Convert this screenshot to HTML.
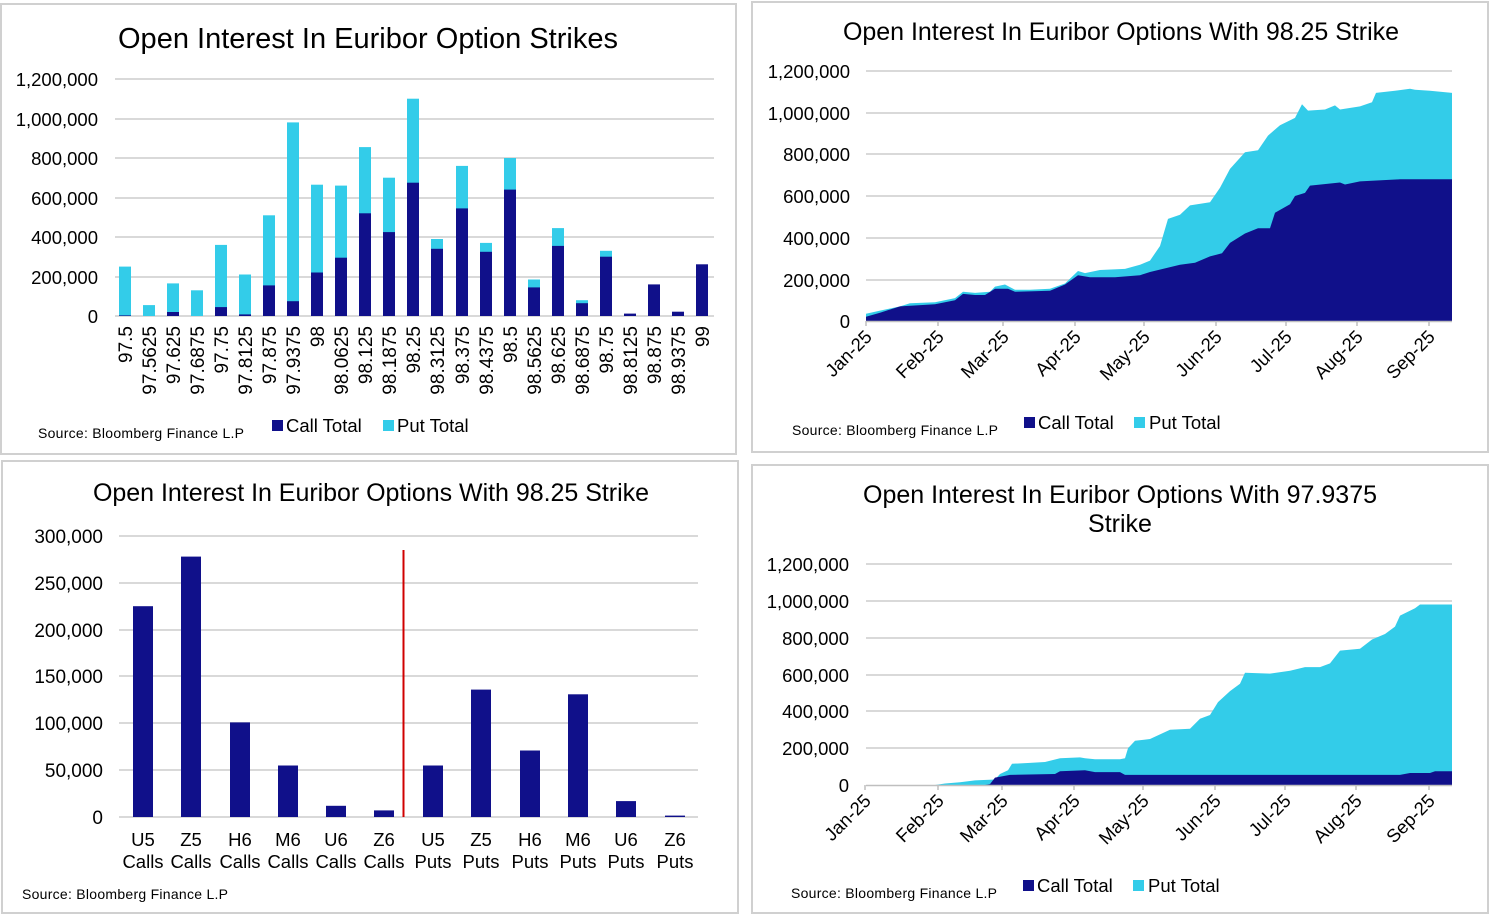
<!DOCTYPE html>
<html><head><meta charset="utf-8"><style>
html,body{margin:0;padding:0;background:#fff}
svg{display:block;font-family:"Liberation Sans",Arial,sans-serif}
</style></head><body>
<svg width="1490" height="916" viewBox="0 0 1490 916" xmlns="http://www.w3.org/2000/svg">
<rect x="0" y="0" width="1490" height="916" fill="#fff"/>
<g fill="none" stroke="#d0d0d0" stroke-width="2">
<rect x="1" y="4" width="735" height="450"/>
<rect x="752" y="2" width="736" height="450"/>
<rect x="2" y="461" width="736" height="452"/>
<rect x="752" y="465" width="736" height="448"/>
</g>

<!-- ========== Chart 1 ========== -->
<text x="368" y="48" font-size="29" text-anchor="middle" fill="#000" textLength="500">Open Interest In Euribor Option Strikes</text>
<g stroke="#d9d9d9" stroke-width="2">
<line x1="115" x2="714" y1="79" y2="79"/><line x1="115" x2="714" y1="119" y2="119"/>
<line x1="115" x2="714" y1="158" y2="158"/><line x1="115" x2="714" y1="198" y2="198"/>
<line x1="115" x2="714" y1="237" y2="237"/><line x1="115" x2="714" y1="277" y2="277"/>
<line x1="115" x2="714" y1="316" y2="316"/>
</g>
<g font-size="18.5" text-anchor="end" fill="#000">
<text x="98" y="86">1,200,000</text><text x="98" y="126">1,000,000</text>
<text x="98" y="165">800,000</text><text x="98" y="205">600,000</text>
<text x="98" y="244">400,000</text><text x="98" y="284">200,000</text>
<text x="98" y="323">0</text>
</g>
<g fill="#33cce9">
<rect x="119" y="266.6" width="12" height="49.4"/>
<rect x="143" y="305.1" width="12" height="10.9"/>
<rect x="167" y="283.4" width="12" height="32.6"/>
<rect x="191" y="290.3" width="12" height="25.7"/>
<rect x="215" y="244.9" width="12" height="71.1"/>
<rect x="239" y="274.5" width="12" height="41.5"/>
<rect x="263" y="215.3" width="12" height="100.7"/>
<rect x="287" y="122.4" width="12" height="193.6"/>
<rect x="311" y="184.7" width="12" height="131.3"/>
<rect x="335" y="185.6" width="12" height="130.4"/>
<rect x="359" y="147.1" width="12" height="168.9"/>
<rect x="383" y="177.7" width="12" height="138.3"/>
<rect x="407" y="98.7" width="12" height="217.3"/>
<rect x="431" y="239" width="12" height="77"/>
<rect x="456" y="165.9" width="12" height="150.1"/>
<rect x="480" y="242.9" width="12" height="73.1"/>
<rect x="504" y="158" width="12" height="158"/>
<rect x="528" y="279.5" width="12" height="36.5"/>
<rect x="552" y="228.1" width="12" height="87.9"/>
<rect x="576" y="300.2" width="12" height="15.8"/>
<rect x="600" y="250.8" width="12" height="65.2"/>
</g>
<g fill="#10108a">
<rect x="119" y="315.4" width="12" height="0.6"/>
<rect x="167" y="312" width="12" height="4"/>
<rect x="215" y="307.1" width="12" height="8.9"/>
<rect x="239" y="314.4" width="12" height="1.6"/>
<rect x="263" y="285.4" width="12" height="30.6"/>
<rect x="287" y="301.2" width="12" height="14.8"/>
<rect x="311" y="272.5" width="12" height="43.5"/>
<rect x="335" y="257.7" width="12" height="58.3"/>
<rect x="359" y="213.3" width="12" height="102.7"/>
<rect x="383" y="232.1" width="12" height="83.9"/>
<rect x="407" y="182.7" width="12" height="133.3"/>
<rect x="431" y="248.8" width="12" height="67.2"/>
<rect x="456" y="208.4" width="12" height="107.6"/>
<rect x="480" y="251.8" width="12" height="64.2"/>
<rect x="504" y="189.6" width="12" height="126.4"/>
<rect x="528" y="287.4" width="12" height="28.6"/>
<rect x="552" y="245.9" width="12" height="70.1"/>
<rect x="576" y="303.2" width="12" height="12.8"/>
<rect x="600" y="256.7" width="12" height="59.3"/>
<rect x="624" y="313.6" width="12" height="2.4"/>
<rect x="648" y="284.4" width="12" height="31.6"/>
<rect x="672" y="311.7" width="12" height="4.3"/>
<rect x="696" y="264.3" width="12" height="51.7"/>
</g>
<g font-size="19" text-anchor="end" fill="#000">
<text transform="translate(132,326) rotate(-90)">97.5</text>
<text transform="translate(156,326) rotate(-90)">97.5625</text>
<text transform="translate(180,326) rotate(-90)">97.625</text>
<text transform="translate(204,326) rotate(-90)">97.6875</text>
<text transform="translate(228,326) rotate(-90)">97.75</text>
<text transform="translate(252,326) rotate(-90)">97.8125</text>
<text transform="translate(276,326) rotate(-90)">97.875</text>
<text transform="translate(300,326) rotate(-90)">97.9375</text>
<text transform="translate(324,326) rotate(-90)">98</text>
<text transform="translate(348,326) rotate(-90)">98.0625</text>
<text transform="translate(372,326) rotate(-90)">98.125</text>
<text transform="translate(396,326) rotate(-90)">98.1875</text>
<text transform="translate(420,326) rotate(-90)">98.25</text>
<text transform="translate(444,326) rotate(-90)">98.3125</text>
<text transform="translate(469,326) rotate(-90)">98.375</text>
<text transform="translate(493,326) rotate(-90)">98.4375</text>
<text transform="translate(517,326) rotate(-90)">98.5</text>
<text transform="translate(541,326) rotate(-90)">98.5625</text>
<text transform="translate(565,326) rotate(-90)">98.625</text>
<text transform="translate(589,326) rotate(-90)">98.6875</text>
<text transform="translate(613,326) rotate(-90)">98.75</text>
<text transform="translate(637,326) rotate(-90)">98.8125</text>
<text transform="translate(661,326) rotate(-90)">98.875</text>
<text transform="translate(685,326) rotate(-90)">98.9375</text>
<text transform="translate(709,326) rotate(-90)">99</text>
</g>
<text x="38" y="438" font-size="14" fill="#000" textLength="206">Source: Bloomberg Finance L.P</text>
<rect x="272" y="420" width="11" height="11" fill="#10108a"/>
<text x="286" y="432" font-size="18.5" fill="#000">Call Total</text>
<rect x="383" y="420" width="11" height="11" fill="#33cce9"/>
<text x="397" y="432" font-size="18.5" fill="#000">Put Total</text>

<!-- ========== Chart 2 ========== -->
<text x="1121" y="40" font-size="25" text-anchor="middle" fill="#000" textLength="556">Open Interest In Euribor Options With 98.25 Strike</text>
<g stroke="#d9d9d9" stroke-width="2">
<line x1="866" x2="1452" y1="71" y2="71"/><line x1="866" x2="1452" y1="113" y2="113"/>
<line x1="866" x2="1452" y1="154" y2="154"/><line x1="866" x2="1452" y1="196" y2="196"/>
<line x1="866" x2="1452" y1="238" y2="238"/><line x1="866" x2="1452" y1="280" y2="280"/>
</g>
<g font-size="18.5" text-anchor="end" fill="#000">
<text x="850" y="78">1,200,000</text><text x="850" y="120">1,000,000</text>
<text x="850" y="161">800,000</text><text x="850" y="203">600,000</text>
<text x="850" y="245">400,000</text><text x="850" y="287">200,000</text>
<text x="850" y="328">0</text>
</g>
<polygon fill="#33cce9" points="866,321 866,313.7 880,310.6 900,306.4 910,303.3 935,302.3 955,298.1 963,291.8 975,292.9 990,291.8 995,286.6 1005,284.5 1015,289.8 1030,289.8 1050,288.7 1065,283.5 1078,271 1085,273.1 1100,270 1125,268.9 1140,264.8 1150,260.6 1160,246 1168,218.9 1180,214.8 1190,205.4 1210,202.3 1220,187.7 1230,168.9 1245,152.3 1258,150.2 1268,135.6 1280,125.2 1295,117.9 1302,104.3 1308,110.6 1325,109.5 1335,105.4 1340,109.5 1360,106.4 1372,102.3 1376,92.9 1395,90.8 1410,88.7 1415,89.8 1430,90.8 1452,92.9 1452,321"/>
<polygon fill="#10108a" points="866,321 866,316.8 880,312.7 900,306.4 935,304.3 955,300.2 963,293.9 975,295 985,295 995,288.7 1008,288.7 1015,291.8 1050,290.8 1065,284.5 1078,275.2 1090,277.3 1115,277.3 1140,275.2 1150,272 1180,264.8 1195,262.7 1210,256.4 1222,253.3 1230,242.9 1245,233.5 1258,228.3 1270,228.3 1275,212.7 1290,204.3 1295,196 1305,192.9 1310,185.6 1340,182.5 1345,184.5 1360,181.4 1400,179.3 1452,179.3 1452,321"/>
<g stroke="#bfbfbf" stroke-width="1.5">
<line x1="866" x2="1452" y1="321.5" y2="321.5"/>
<line x1="866" x2="866" y1="321" y2="326"/><line x1="938" x2="938" y1="321" y2="326"/>
<line x1="1003" x2="1003" y1="321" y2="326"/><line x1="1075" x2="1075" y1="321" y2="326"/>
<line x1="1144" x2="1144" y1="321" y2="326"/><line x1="1216" x2="1216" y1="321" y2="326"/>
<line x1="1286" x2="1286" y1="321" y2="326"/><line x1="1357" x2="1357" y1="321" y2="326"/>
<line x1="1429" x2="1429" y1="321" y2="326"/>
</g>
<g font-size="18.5" text-anchor="end" fill="#000">
<text transform="translate(873,338) rotate(-45)">Jan-25</text>
<text transform="translate(945,338) rotate(-45)">Feb-25</text>
<text transform="translate(1010,338) rotate(-45)">Mar-25</text>
<text transform="translate(1082,338) rotate(-45)">Apr-25</text>
<text transform="translate(1151,338) rotate(-45)">May-25</text>
<text transform="translate(1223,338) rotate(-45)">Jun-25</text>
<text transform="translate(1293,338) rotate(-45)">Jul-25</text>
<text transform="translate(1364,338) rotate(-45)">Aug-25</text>
<text transform="translate(1436,338) rotate(-45)">Sep-25</text>
</g>
<text x="792" y="435" font-size="14" fill="#000" textLength="206">Source: Bloomberg Finance L.P</text>
<rect x="1024" y="417" width="11" height="11" fill="#10108a"/>
<text x="1038" y="429" font-size="18.5" fill="#000">Call Total</text>
<rect x="1134" y="417" width="11" height="11" fill="#33cce9"/>
<text x="1149" y="429" font-size="18.5" fill="#000">Put Total</text>

<!-- ========== Chart 3 ========== -->
<text x="371" y="501" font-size="25" text-anchor="middle" fill="#000" textLength="556">Open Interest In Euribor Options With 98.25 Strike</text>
<g stroke="#d9d9d9" stroke-width="2">
<line x1="119" x2="698" y1="536" y2="536"/><line x1="119" x2="698" y1="583" y2="583"/>
<line x1="119" x2="698" y1="630" y2="630"/><line x1="119" x2="698" y1="676" y2="676"/>
<line x1="119" x2="698" y1="723" y2="723"/><line x1="119" x2="698" y1="770" y2="770"/>
<line x1="119" x2="698" y1="817" y2="817"/>
</g>
<g font-size="19" text-anchor="end" fill="#000">
<text x="103" y="543">300,000</text><text x="103" y="590">250,000</text>
<text x="103" y="637">200,000</text><text x="103" y="683">150,000</text>
<text x="103" y="730">100,000</text><text x="103" y="777">50,000</text>
<text x="103" y="824">0</text>
</g>
<g fill="#10108a">
<rect x="133" y="606.2" width="20" height="210.8"/>
<rect x="181" y="556.6" width="20" height="260.4"/>
<rect x="230" y="722.4" width="20" height="94.6"/>
<rect x="278" y="765.5" width="20" height="51.5"/>
<rect x="326" y="805.8" width="20" height="11.2"/>
<rect x="374" y="810.4" width="20" height="6.6"/>
<rect x="423" y="765.5" width="20" height="51.5"/>
<rect x="471" y="689.6" width="20" height="127.4"/>
<rect x="520" y="750.5" width="20" height="66.5"/>
<rect x="568" y="694.3" width="20" height="122.7"/>
<rect x="616" y="801.1" width="20" height="15.9"/>
<rect x="665" y="815.6" width="20" height="1.4"/>
</g>
<line x1="403.5" x2="403.5" y1="550" y2="817" stroke="#d00000" stroke-width="2"/>
<g font-size="18.5" text-anchor="middle" fill="#000">
<text x="143" y="846">U5</text><text x="191" y="846">Z5</text><text x="240" y="846">H6</text>
<text x="288" y="846">M6</text><text x="336" y="846">U6</text><text x="384" y="846">Z6</text>
<text x="433" y="846">U5</text><text x="481" y="846">Z5</text><text x="530" y="846">H6</text>
<text x="578" y="846">M6</text><text x="626" y="846">U6</text><text x="675" y="846">Z6</text>
<text x="143" y="868">Calls</text><text x="191" y="868">Calls</text><text x="240" y="868">Calls</text>
<text x="288" y="868">Calls</text><text x="336" y="868">Calls</text><text x="384" y="868">Calls</text>
<text x="433" y="868">Puts</text><text x="481" y="868">Puts</text><text x="530" y="868">Puts</text>
<text x="578" y="868">Puts</text><text x="626" y="868">Puts</text><text x="675" y="868">Puts</text>
</g>
<text x="22" y="899" font-size="14" fill="#000" textLength="206">Source: Bloomberg Finance L.P</text>

<!-- ========== Chart 4 ========== -->
<text x="1120" y="503" font-size="25" text-anchor="middle" fill="#000" textLength="514">Open Interest In Euribor Options With 97.9375</text>
<text x="1120" y="532" font-size="25" text-anchor="middle" fill="#000">Strike</text>
<g stroke="#d9d9d9" stroke-width="2">
<line x1="866" x2="1452" y1="564" y2="564"/><line x1="866" x2="1452" y1="601" y2="601"/>
<line x1="866" x2="1452" y1="638" y2="638"/><line x1="866" x2="1452" y1="675" y2="675"/>
<line x1="866" x2="1452" y1="711" y2="711"/><line x1="866" x2="1452" y1="748" y2="748"/>
</g>
<g font-size="18.5" text-anchor="end" fill="#000">
<text x="849" y="571">1,200,000</text><text x="849" y="608">1,000,000</text>
<text x="849" y="645">800,000</text><text x="849" y="682">600,000</text>
<text x="849" y="718">400,000</text><text x="849" y="755">200,000</text>
<text x="849" y="792">0</text>
</g>
<polygon fill="#33cce9" points="866,785 935,785 945,783.5 960,782.2 975,780.4 995,779.5 1000,774 1008,770.3 1012,763.8 1030,762.9 1045,762 1060,758.3 1080,757.4 1085,758.3 1095,759.2 1120,759.2 1125,758.3 1128,748.2 1135,740.8 1150,739 1160,734.4 1170,729.7 1190,728.8 1200,718.7 1210,715 1218,702.1 1230,691.1 1240,683.7 1245,672.7 1270,673.6 1290,670.8 1305,667.1 1320,667.1 1330,663.4 1340,650.6 1360,648.7 1372,639.5 1385,634 1395,626.6 1400,615.6 1415,608.2 1420,604.5 1452,604.5 1452,785"/>
<polygon fill="#10108a" points="985,785 990,784.1 995,777.6 1010,774.9 1055,774 1060,771.2 1085,770.3 1095,772.1 1120,772.1 1125,774.9 1400,774.9 1410,773 1430,773 1435,771.2 1452,771.2 1452,785"/>
<g stroke="#bfbfbf" stroke-width="1.5">
<line x1="866" x2="1452" y1="785.5" y2="785.5"/>
<line x1="865" x2="865" y1="785" y2="790"/><line x1="938" x2="938" y1="785" y2="790"/>
<line x1="1002" x2="1002" y1="785" y2="790"/><line x1="1074" x2="1074" y1="785" y2="790"/>
<line x1="1143" x2="1143" y1="785" y2="790"/><line x1="1215" x2="1215" y1="785" y2="790"/>
<line x1="1285" x2="1285" y1="785" y2="790"/><line x1="1356" x2="1356" y1="785" y2="790"/>
<line x1="1429" x2="1429" y1="785" y2="790"/>
</g>
<g font-size="18.5" text-anchor="end" fill="#000">
<text transform="translate(872,802) rotate(-45)">Jan-25</text>
<text transform="translate(945,802) rotate(-45)">Feb-25</text>
<text transform="translate(1009,802) rotate(-45)">Mar-25</text>
<text transform="translate(1081,802) rotate(-45)">Apr-25</text>
<text transform="translate(1150,802) rotate(-45)">May-25</text>
<text transform="translate(1222,802) rotate(-45)">Jun-25</text>
<text transform="translate(1292,802) rotate(-45)">Jul-25</text>
<text transform="translate(1363,802) rotate(-45)">Aug-25</text>
<text transform="translate(1436,802) rotate(-45)">Sep-25</text>
</g>
<text x="791" y="898" font-size="14" fill="#000" textLength="206">Source: Bloomberg Finance L.P</text>
<rect x="1023" y="880" width="11" height="11" fill="#10108a"/>
<text x="1037" y="892" font-size="18.5" fill="#000">Call Total</text>
<rect x="1133" y="880" width="11" height="11" fill="#33cce9"/>
<text x="1148" y="892" font-size="18.5" fill="#000">Put Total</text>
</svg>
</body></html>
